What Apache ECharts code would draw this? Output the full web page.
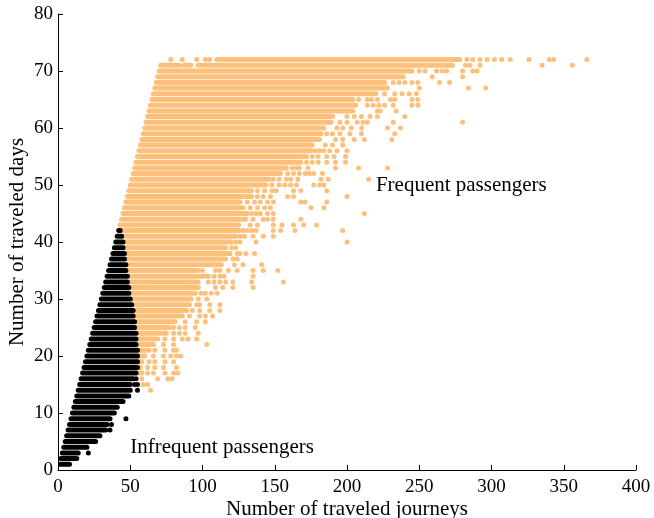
<!DOCTYPE html>
<html>
<head>
<meta charset="utf-8">
<script src="https://cdn.jsdelivr.net/npm/echarts@6/dist/echarts.min.js"></script>
<style>
  html, body { margin: 0; padding: 0; background: #fff; }
  #chart { width: 654px; height: 518px; }
</style>
</head>
<body>
<div id="chart"></div>
<script>
// ---------------- DATA ----------------
// x-axis ticks / y-axis ticks
const xTicks = { min: 0, max: 400, step: 50 };
const yTicks = { min: 0, max: 80, step: 10 };

// Infrequent passengers: dense rows [day, firstJourneys, lastJourneys]
const blackBands = [
  [1,1,8],[2,2,13],[3,3,14],[4,4,20],[5,5,25],[6,6,29],[7,7,33],[8,8,34],[9,9,36],[10,10,39],
  [11,11,41],[12,12,45],[13,13,49],[14,14,50],[15,15,50],[16,16,52],[17,17,54],[18,18,55],[19,19,55],[20,20,55],
  [21,21,55],[22,22,54],[23,23,54],[24,24,54],[25,25,53],[26,26,53],[27,27,52],[28,28,52],[29,29,51],[30,30,50],
  [31,31,49],[32,32,49],[33,33,48],[34,34,48],[35,35,47],[36,36,47],[37,37,46],[38,38,46],[39,39,45],[40,40,45],
  [41,41,44],[42,42,43]
];
// Infrequent passengers: isolated points [journeys, day]
const blackDots = [[21,3],[26,5],[36,7],[37,8],[47,9],[55,14],[53,15],[55,15],[54,16]];

// Frequent passengers: dense rows [day, firstJourneys, lastJourneys]
const orangeBands = [
  [17,55,58],[18,56,57],[19,56,58],[20,56,60],[21,56,63],[22,55,66],[23,55,69],[24,55,75],[25,54,77],[26,54,81],
  [27,53,86],[28,53,89],[29,52,91],[30,51,92],[31,50,95],[32,50,97],[33,49,97],[34,49,104],[35,48,97],[36,48,113],
  [37,47,116],[38,47,119],[39,46,116],[40,46,120],[41,45,123],[42,44,125],[43,43,125],[44,44,130],[45,45,131],[46,46,126],
  [47,47,126],[48,48,134],[49,49,134],[50,50,144],[51,51,146],[52,52,154],[53,53,158],[54,54,168],[55,55,172],[56,56,175],
  [57,57,176],[58,58,181],[59,59,182],[60,60,184],[61,61,189],[62,62,190],[63,63,204],[64,64,206],[65,65,204],[66,66,220],
  [67,67,228],[68,68,226],[69,69,239],[70,70,245],
  [71,71,84],[71,87,92],[71,97,100],[71,102,273],
  [72,110,278]
];
// Frequent passengers: isolated points, grouped by day: [day, [journeys...]]
const orangeDotRows = [
  [14,[64]],
  [15,[59,62]],
  [16,[58,69,76,79]],
  [17,[62,66,74,80,83]],
  [18,[62,67,73,82]],
  [19,[63,67,74,80]],
  [20,[66,73,78,82,85]],
  [21,[67,74,80,82]],
  [22,[73,80,103]],
  [23,[74,80,86,90,96]],
  [24,[80,84,88,97]],
  [25,[80,84,88,95]],
  [26,[88,96,102]],
  [27,[91,98,102,107]],
  [28,[93,98,105,112]],
  [29,[96,98,105,112]],
  [30,[97,103]],
  [31,[99,102,106,110]],
  [32,[109,114,121,135]],
  [33,[104,108,112,116,121,134,156]],
  [34,[108,112,115,135]],
  [35,[100,109,112,118,124,135,142,152]],
  [36,[122,128,141]],
  [37,[121,124]],
  [38,[124,126,130,136]],
  [39,[120,123]],
  [40,[123,126,137,200]],
  [41,[126,129,135,142,149]],
  [42,[128,131,134,137,149,154,164,197]],
  [43,[133,138,149,155,163,170,179]],
  [44,[135,142,145,149,168]],
  [45,[134,137,140,145,149,212]],
  [46,[128,133,138,143,147,175,184]],
  [47,[131,136,140,145,149,168,171,186]],
  [48,[138,142,147,159,163,200]],
  [49,[138,143,148,151,163,168,186]],
  [50,[148,153,157,161,165,177,181,184]],
  [51,[149,153,158,161,166,182,187,215]],
  [52,[159,163,167,171,174,177,183]],
  [53,[162,165,167,173,192,208,228]],
  [54,[172,176,180,186,192,199]],
  [55,[176,180,186,191,199]],
  [56,[178,181,184,188,193,200]],
  [57,[185,190,197]],
  [58,[192,197,205,212,231]],
  [59,[186,190,195,202,210,233]],
  [60,[193,197,203,210,228,237]],
  [61,[195,200,207,211,214,232,280]],
  [62,[200,205,210,216,221,240]],
  [63,[221,223,234]],
  [64,[214,218,222,226,232,245,249]],
  [65,[208,214,217,221,230,233,245,249]],
  [66,[226,233,238,243,248]],
  [67,[250,284,296]],
  [68,[232,236,240,245,249,264,271]],
  [69,[259,280]],
  [70,[250,254,262,266,269,280,287,290]],
  [71,[282,285,292,335,356]],
  [72,[78,86,96,102,105,283,287,292,297,302,307,313,326,340,343,366]]
];

// Annotations: [text, journeys, day]
const annotations = [
  ['Frequent passengers', 220, 50.0],
  ['Infrequent passengers', 50, 3.9]
];
const xAxisTitle = 'Number of traveled journeys';
const yAxisTitle = 'Number of traveled days';

// ---------------- CHART ----------------
const ORANGE = '#FDC07A';
const BLACK = '#000000';
const FONT = 'Liberation Serif';

const orangeDots = [];
orangeDotRows.forEach(function (r) { r[1].forEach(function (x) { orangeDots.push([x, r[0]]); }); });

function bandRenderer(color) {
  return function (params, api) {
    const d = api.value(0), a = api.value(1), b = api.value(2);
    const p0 = api.coord([a, d]);
    const p1 = api.coord([b, d]);
    return {
      type: 'line',
      shape: { x1: p0[0], y1: p0[1], x2: p1[0], y2: p1[1] },
      style: { stroke: color, lineWidth: 5, lineCap: 'round', fill: null }
    };
  };
}

const chart = echarts.init(document.getElementById('chart'), null, { renderer: 'canvas' });

const axisCommon = {
  axisLine: { show: true, lineStyle: { color: '#000', width: 1 } },
  axisTick: { show: true, inside: true, length: 5, lineStyle: { color: '#000' } },
  splitLine: { show: false },
  nameLocation: 'middle',
  nameMoveOverlap: false,
  nameTextStyle: { fontFamily: FONT, fontSize: 21, color: '#000' }
};

chart.setOption({
  animation: false,
  backgroundColor: '#fff',
  grid: { left: 58, right: 18, top: 14, bottom: 48, containLabel: false, outerBoundsMode: 'none' },
  xAxis: Object.assign({}, axisCommon, {
    type: 'value', min: xTicks.min, max: xTicks.max, interval: xTicks.step,
    name: xAxisTitle, nameGap: 29,
    axisLabel: { fontFamily: FONT, fontSize: 19, color: '#000', margin: 8 }
  }),
  yAxis: Object.assign({}, axisCommon, {
    type: 'value', min: yTicks.min, max: yTicks.max, interval: yTicks.step,
    name: yAxisTitle, nameGap: 30, nameRotate: 90,
    axisLabel: { fontFamily: FONT, fontSize: 19, color: '#000', margin: 5 }
  }),
  series: [
    {
      type: 'custom', name: 'frequent bands', renderItem: bandRenderer(ORANGE),
      encode: { x: [1, 2], y: 0 }, data: orangeBands, z: 2, silent: true, clip: true
    },
    {
      type: 'scatter', name: 'frequent dots', data: orangeDots, symbol: 'circle', symbolSize: 5,
      itemStyle: { color: ORANGE, opacity: 1 }, z: 2, silent: true
    },
    {
      type: 'custom', name: 'infrequent bands', renderItem: bandRenderer(BLACK),
      encode: { x: [1, 2], y: 0 }, data: blackBands, z: 3, silent: true, clip: true
    },
    {
      type: 'scatter', name: 'infrequent dots', data: blackDots, symbol: 'circle', symbolSize: 5,
      itemStyle: { color: BLACK, opacity: 1 }, z: 3, silent: true
    }
  ]
});

// place annotations through the chart's own coordinate system
const graphics = annotations.map(function (a) {
  const p = chart.convertToPixel({ gridIndex: 0 }, [a[1], a[2]]);
  return {
    type: 'text', x: p[0], y: p[1], z: 10,
    style: { text: a[0], fontFamily: FONT, fontSize: 21, fill: '#000', textAlign: 'left', textVerticalAlign: 'middle' }
  };
});
chart.setOption({ graphic: graphics });
</script>
</body>
</html>
